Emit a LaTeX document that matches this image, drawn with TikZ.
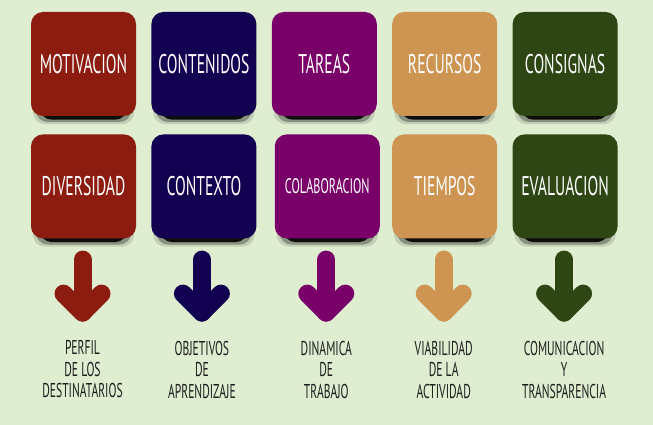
\documentclass[tikz,border=0pt]{standalone}
\usepackage{fontspec}
\newfontfamily\manofont[FakeStretch=0.58]{PT Sans}
\usetikzlibrary{positioning}
\definecolor{fondo}{HTML}{DFEDD0}
\definecolor{rojo}{HTML}{8C1C10}
\definecolor{azul}{HTML}{120050}
\definecolor{morado}{HTML}{780068}
\definecolor{ocre}{HTML}{CE9552}
\definecolor{verde}{HTML}{2D4613}
\definecolor{tinta}{HTML}{1E1E1E}
\pgfdeclarelayer{capafondo}
\pgfdeclarelayer{capasombra}
\pgfsetlayers{capafondo,capasombra,main}
\tikzset{
	%Define style for the cards
	tarjeta/.style={
		rectangle,
		rounded corners=12pt,
		minimum width=105pt,
		minimum height=104pt,
		inner sep=0pt,
		text=white,
		font=\manofont\fontsize{27}{29}\selectfont},
	% Define shadow style
	sombra/.style={
		fill=black,
		rounded corners=12pt},
	% Define arrow style
	flecha/.style={
		line width=18pt,
		line cap=round,
		line join=round},
	% Define style for the texts below
	etiqueta/.style={
		align=center,
		inner sep=0pt,
		text=tinta,
		font=\manofont\fontsize{20}{21.5}\selectfont}
}
\begin{document}
\begin{tikzpicture}[x=1pt, y=-1pt, node distance=15pt]
		\begin{pgfonlayer}{capafondo}
		\fill[fondo] (0,0) rectangle (653,425);
		\end{pgfonlayer}
		\useasboundingbox (0,0) rectangle (653,425);
		%first row
		\node[tarjeta, fill=rojo] (motivacion) at (83.5,64) {MOTIVACION};
		\node[tarjeta, fill=azul, right=of motivacion] (contenidos) {CONTENIDOS};
		\node[tarjeta, fill=morado, right=of contenidos] (tareas) {TAREAS};
		\node[tarjeta, fill=ocre, right=of tareas] (recursos) {RECURSOS};
		\node[tarjeta, fill=verde, right=of recursos] (consignas) {CONSIGNAS};
		%second row
		\node[tarjeta, fill=rojo, below=18pt of motivacion] (diversidad) {DIVERSIDAD};
		\node[tarjeta, fill=azul, below=18pt of contenidos] (contexto) {CONTEXTO};
		\node[tarjeta, fill=morado, below=18pt of tareas, xshift=3pt]
		(colaboracion) {\fontsize{21}{23}\selectfont COLABORACION};
		\node[tarjeta, fill=ocre, below=18pt of recursos] (tiempos) {TIEMPOS};
		\node[tarjeta, fill=verde, below=18pt of consignas] (evaluacion) {EVALUACION};
		% shadows under the cards
		\begin{pgfonlayer}{capasombra}
		\foreach \caja in {motivacion,contenidos,tareas,recursos,consignas,
			diversidad,contexto,colaboracion,tiempos,evaluacion}{
			\fill[sombra, opacity=0.12] ([xshift=2pt,yshift=-8pt]\caja.south west) rectangle ([xshift=-2pt,yshift=-20pt]\caja.north east);
			\fill[sombra, opacity=0.3] ([xshift=5pt,yshift=-6pt]\caja.south west) rectangle ([xshift=-5pt,yshift=-20pt]\caja.north east);
			\fill[sombra, opacity=0.9] ([xshift=9pt,yshift=-3.5pt]\caja.south west) rectangle ([xshift=-9pt,yshift=-20pt]\caja.north east);
		}
		\end{pgfonlayer}
		% texts under the arrows
		\node[etiqueta, below=102pt of diversidad, xshift=-1pt] (perfil) {PERFIL\\DE LOS\\DESTINATARIOS};
		\node[etiqueta, below=102pt of contexto, xshift=-2pt] (objetivos) {OBJETIVOS\\DE\\APRENDIZAJE};
		\node[etiqueta, below=102pt of colaboracion, xshift=-1pt] (dinamica) {DINAMICA\\DE\\TRABAJO};
		\node[etiqueta, below=102pt of tiempos, xshift=-1pt] (viabilidad) {VIABILIDAD\\DE LA\\ACTIVIDAD};
		\node[etiqueta, below=102pt of evaluacion, xshift=-1pt] (comunicacion) {COMUNICACION\\Y\\TRANSPARENCIA};
		% arrows from the cards to the texts
		\foreach \caja/\etiq/\tono in {diversidad/perfil/rojo, contexto/objetivos/azul,
			colaboracion/dinamica/morado, tiempos/viabilidad/ocre, evaluacion/comunicacion/verde}{
			\path (\etiq.north) coordinate (pie);
			\draw[flecha, draw=\tono] (\caja.south -| pie) ++(0,21) -- ([yshift=28pt]pie) coordinate (punta);
			\draw[flecha, draw=\tono] ([xshift=-19pt,yshift=19pt]punta) -- (punta) -- ([xshift=19pt,yshift=19pt]punta);
		}
\end{tikzpicture}
\end{document}
